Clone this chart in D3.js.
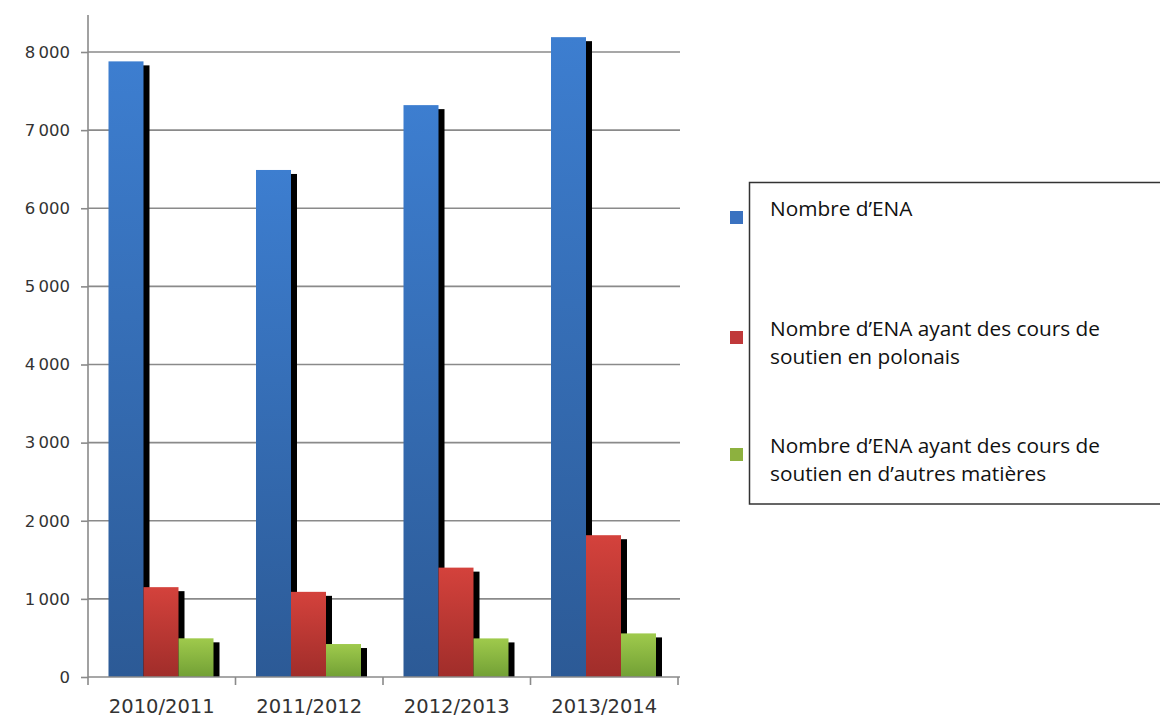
<!DOCTYPE html>
<html>
<head>
<meta charset="utf-8">
<script src="https://cdn.jsdelivr.net/npm/d3@7"></script>
<style>
  html, body { margin: 0; padding: 0; background: #fff; }
  svg { display: block; }
</style>
</head>
<body>
<svg id="chart" width="1160" height="720"></svg>
<script>
// ---- data ----
const categories = ["2010/2011", "2011/2012", "2012/2013", "2013/2014"];
const seriesNames = [
  "Nombre d’ENA",
  "Nombre d’ENA ayant des cours de soutien en polonais",
  "Nombre d’ENA ayant des cours de soutien en d’autres matières"
];
const legendLines = [
  ["Nombre d’ENA"],
  ["Nombre d’ENA ayant des cours de", "soutien en polonais"],
  ["Nombre d’ENA ayant des cours de", "soutien en d’autres matières"]
];
const enaValues      = [7880, 6490, 7320, 8190];
const polonaisValues = [1150, 1090, 1400, 1815];
const autresValues   = [495, 422, 494, 558];
const yTicks = [0, 1000, 2000, 3000, 4000, 5000, 6000, 7000, 8000];

const seriesValues = [enaValues, polonaisValues, autresValues];
const colors = [
  { top: "#3d7ed0", bottom: "#2c5a96", swatch: "#3a72c0" },
  { top: "#d4423c", bottom: "#a02d2a", swatch: "#c0393a" },
  { top: "#9fca4c", bottom: "#72a035", swatch: "#8db13f" }
];

const svg = d3.select("#chart");
const defs = svg.append("defs");
colors.forEach((c, i) => {
  const g = defs.append("linearGradient")
    .attr("id", "grad" + i).attr("x1", 0).attr("y1", 0).attr("x2", 0).attr("y2", 1);
  g.append("stop").attr("offset", "0%").attr("stop-color", c.top);
  g.append("stop").attr("offset", "100%").attr("stop-color", c.bottom);
});

// ---- scales ----
const x = d3.scaleBand().domain(categories).range([88, 678]).padding(0);
const inner = d3.scaleBand().domain(d3.range(3)).range([20.5, 125.5]).padding(0);
const y = d3.scaleLinear().domain([0, 8000]).range([677, 52]);

const axisColor = "#8a8a8a";
const labelColor = "#333";

// gridlines
svg.append("g").selectAll("line").data(yTicks.filter(d => d > 0)).join("line")
  .attr("x1", 88).attr("x2", 680)
  .attr("y1", d => y(d)).attr("y2", d => y(d))
  .attr("stroke", axisColor).attr("stroke-width", 1.6);

// y axis
const fmt = d => d3.format(",")(d).replace(/,/g, "\u2009");
const yAxis = d3.axisLeft(y).tickValues(yTicks).tickSize(7).tickPadding(11).tickFormat(fmt);
const gy = svg.append("g").attr("transform", "translate(88,0)").call(yAxis);
gy.select(".domain").remove();
gy.selectAll(".tick line").attr("stroke", axisColor).attr("stroke-width", 1.6);
gy.selectAll(".tick text")
  .attr("font-family", "'DejaVu Sans', sans-serif")
  .attr("font-size", 16.5).attr("fill", labelColor);
svg.append("line")
  .attr("x1", 88).attr("x2", 88).attr("y1", 15).attr("y2", y(0))
  .attr("stroke", axisColor).attr("stroke-width", 1.6);

// bars with shadows
const groups = svg.append("g").selectAll("g").data(categories).join("g")
  .attr("transform", d => `translate(${x(d)},0)`);

seriesValues.forEach((vals, si) => {
  groups.append("rect")
    .attr("x", inner(si) + inner.bandwidth() - 1)
    .attr("y", (d, ci) => y(vals[ci]) + 4)
    .attr("width", 7)
    .attr("height", (d, ci) => y(0) - y(vals[ci]) - 4)
    .attr("fill", "#000");
  groups.append("rect")
    .attr("x", inner(si))
    .attr("y", (d, ci) => y(vals[ci]))
    .attr("width", inner.bandwidth())
    .attr("height", (d, ci) => y(0) - y(vals[ci]))
    .attr("fill", `url(#grad${si})`);
});

// x axis
const xAxis = d3.axisBottom(x).tickSize(0).tickPadding(22);
const gx = svg.append("g").attr("transform", `translate(0,${y(0)})`).call(xAxis);
gx.select(".domain").remove();
gx.selectAll(".tick text")
  .attr("font-family", "'DejaVu Sans', sans-serif")
  .attr("font-size", 19.5).attr("fill", labelColor);
svg.append("line")
  .attr("x1", 88).attr("x2", 680).attr("y1", y(0)).attr("y2", y(0))
  .attr("stroke", axisColor).attr("stroke-width", 1.6);
const boundaries = categories.map(c => x(c)).concat([x.range()[1]]);
svg.append("g").selectAll("line").data(boundaries).join("line")
  .attr("x1", d => d).attr("x2", d => d)
  .attr("y1", y(0)).attr("y2", y(0) + 8)
  .attr("stroke", axisColor).attr("stroke-width", 1.6);

// legend
const legend = svg.append("g");
legend.append("rect")
  .attr("x", 749.5).attr("y", 182.5).attr("width", 430).attr("height", 321.5)
  .attr("fill", "#fff").attr("stroke", "#333").attr("stroke-width", 1.5);
const legendY = [216, 336, 453];
legendLines.forEach((lines, i) => {
  legend.append("rect")
    .attr("x", 730).attr("y", legendY[i] - 5).attr("width", 13).attr("height", 13)
    .attr("fill", colors[i].swatch);
  const t = legend.append("text")
    .attr("x", 770).attr("y", legendY[i])
    .attr("font-family", "'Open Sans', sans-serif")
    .attr("font-size", 20.8).attr("fill", "#111");
  lines.forEach((ln, j) => {
    t.append("tspan").attr("x", 770).attr("dy", j === 0 ? 0 : 28).text(ln);
  });
});
</script>
</body>
</html>
